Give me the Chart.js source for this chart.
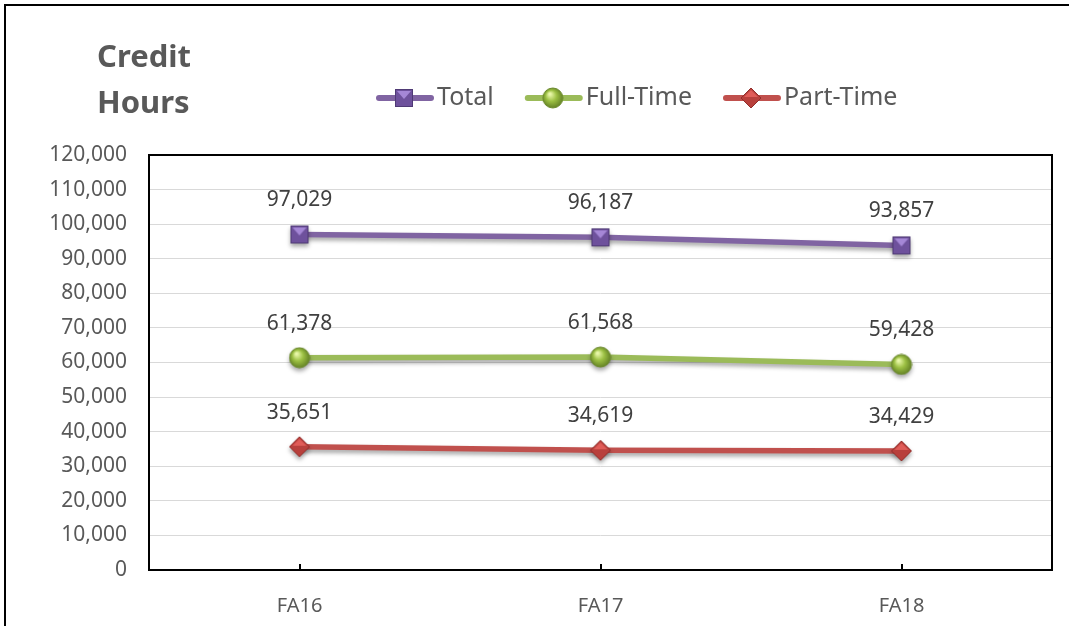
<!DOCTYPE html>
<html>
<head>
<meta charset="utf-8">
<script src="https://cdn.jsdelivr.net/npm/chart.js@4.4.0/dist/chart.umd.min.js"></script>
<style>
html, body { margin: 0; padding: 0; background: #fff; }
#wrap { width: 1069px; height: 626px; }
</style>
</head>
<body>
<div id="wrap"><canvas id="credit_chart" width="1069" height="626"></canvas></div>
<script>
// data
const terms = ['FA16', 'FA17', 'FA18'];
const total = [97029, 96187, 93857];
const fullTime = [61378, 61568, 59428];
const partTime = [35651, 34619, 34429];
const seriesNames = ['Total', 'Full-Time', 'Part-Time'];
const titleLines = ['Credit', 'Hours'];
const yMax = 120000;
const yStep = 10000;

const FONT = "'Noto Sans', sans-serif";
const grey = '#595959';

// little 3D-ish markers, drawn once on small canvases
let makeMarker = (kind) => {
    const c = document.createElement('canvas');
    c.width = 22; c.height = 22;
    const g = c.getContext('2d');
    if (kind == 'square') {
        g.fillStyle = '#6e519c';
        g.fillRect(2, 2, 18, 18);
        g.fillStyle = '#a587d6';
        g.beginPath(); g.moveTo(4, 4); g.lineTo(18, 4); g.lineTo(11, 12); g.closePath(); g.fill();
        g.strokeStyle = '#4f3a75'; g.lineWidth = 1;
        g.strokeRect(2.5, 2.5, 17, 17);
    } else if (kind == 'circle') {
        const rg = g.createRadialGradient(8, 7, 1, 11, 11, 11);
        rg.addColorStop(0, '#e8f7a8');
        rg.addColorStop(0.45, '#9cc043');
        rg.addColorStop(1, '#5d7a22');
        g.fillStyle = rg;
        g.beginPath(); g.arc(11, 11, 10, 0, Math.PI * 2); g.fill();
        g.strokeStyle = '#6b8a2c'; g.lineWidth = 1; g.stroke();
    } else {
        g.fillStyle = '#b8403c';
        g.beginPath(); g.moveTo(11, 1); g.lineTo(21, 11); g.lineTo(11, 21); g.lineTo(1, 11); g.closePath(); g.fill();
        g.fillStyle = '#e05c58';
        g.beginPath(); g.moveTo(11, 3); g.lineTo(18, 10); g.lineTo(4, 10); g.closePath(); g.fill();
        g.strokeStyle = '#922d2a'; g.lineWidth = 1;
        g.beginPath(); g.moveTo(11, 1); g.lineTo(21, 11); g.lineTo(11, 21); g.lineTo(1, 11); g.closePath(); g.stroke();
    }
    return c;
}

const markers = [makeMarker('square'), makeMarker('circle'), makeMarker('diamond')];
const colors = ['#8064A2', '#9BBB59', '#C0504D'];
const values = [total, fullTime, partTime];

const datasets = seriesNames.map((name, i) => ({
    label: name,
    data: values[i],
    borderColor: colors[i],
    backgroundColor: colors[i],
    borderWidth: 5.5,
    pointStyle: markers[i],
    pointRadius: 10,
    tension: 0
}));

const fmt = v => v.toLocaleString('en-US');

// everything Excel draws around the plot: frame, title, legend, labels
const decor = {
    id: 'decor',
    beforeDraw(chart) {
        const ctx = chart.ctx;
        ctx.save();
        ctx.fillStyle = '#fff';
        ctx.fillRect(0, 0, chart.width, chart.height);
        ctx.restore();
    },
    beforeDatasetsDraw(chart) {
        const ctx = chart.ctx;
        ctx.save();
        ctx.shadowColor = 'rgba(0,0,0,0.35)';
        ctx.shadowBlur = 4;
        ctx.shadowOffsetY = 3;
    },
    afterDatasetsDraw(chart) {
        const ctx = chart.ctx;
        ctx.restore();
        ctx.save();
        ctx.font = '21px ' + FONT;
        ctx.fillStyle = '#404040';
        ctx.textAlign = 'center';
        ctx.textBaseline = 'middle';
        chart.data.datasets.forEach((ds, i) => {
            chart.getDatasetMeta(i).data.forEach((pt, j) => {
                ctx.fillText(fmt(ds.data[j]), pt.x, pt.y - 34);
            });
        });
        ctx.restore();
    },
    afterDraw(chart) {
        const ctx = chart.ctx;
        const a = chart.chartArea;
        ctx.save();
        // outer frame (bottom and right are cut off in the picture)
        ctx.strokeStyle = '#000';
        ctx.lineWidth = 2;
        ctx.beginPath();
        ctx.moveTo(5, chart.height);
        ctx.lineTo(5, 5);
        ctx.lineTo(chart.width, 5);
        ctx.stroke();
        // plot frame
        ctx.lineWidth = 2;
        ctx.strokeRect(a.left, a.top, a.right - a.left, a.bottom - a.top);
        // inner tick marks on the category axis
        const xs = chart.scales.x;
        ctx.beginPath();
        xs.ticks.forEach((t, i) => {
            const px = Math.round(xs.getPixelForTick(i));
            ctx.moveTo(px, a.bottom - 6);
            ctx.lineTo(px, a.bottom);
        });
        ctx.stroke();
        // title
        ctx.fillStyle = grey;
        ctx.font = 'bold 31px ' + FONT;
        ctx.textAlign = 'left';
        ctx.textBaseline = 'middle';
        titleLines.forEach((t, i) => ctx.fillText(t, 97, 58 + i * 46));
        // legend
        ctx.font = '25px ' + FONT;
        let x = 376;
        const y = 98;
        chart.data.datasets.forEach((ds, i) => {
            ctx.strokeStyle = ds.borderColor;
            ctx.lineWidth = 6;
            ctx.lineCap = 'round';
            ctx.beginPath();
            ctx.moveTo(x + 3, y);
            ctx.lineTo(x + 55, y);
            ctx.stroke();
            ctx.drawImage(markers[i], x + 28 - 11, y - 11);
            ctx.fillStyle = grey;
            ctx.fillText(ds.label, x + 61, y);
            x += 61 + ctx.measureText(ds.label).width + 31;
        });
        ctx.restore();
    }
};

const config = {
    type: 'line',
    data: { labels: terms, datasets: datasets },
    options: {
        responsive: false,
        devicePixelRatio: 1,
        animation: false,
        layout: { padding: { top: 155, right: 17, bottom: 0, left: 0 } },
        plugins: {
            legend: { display: false },
            title: { display: false },
            tooltip: { enabled: false }
        },
        scales: {
            x: {
                offset: true,
                grid: { display: false },
                border: { display: false },
                ticks: { color: grey, font: { family: FONT, size: 20 }, padding: 16 },
                afterFit: s => { s.height = 56; }
            },
            y: {
                min: 0,
                max: yMax,
                grid: { color: '#d9d9d9', lineWidth: 1, drawTicks: false },
                border: { display: false },
                ticks: {
                    stepSize: yStep,
                    color: grey,
                    font: { family: FONT, size: 21 },
                    padding: 22,
                    callback: v => fmt(v)
                },
                afterFit: s => { s.width = 149; }
            }
        }
    },
    plugins: [decor]
};

const graph = new Chart(document.getElementById('credit_chart'), config);
</script>
</body>
</html>
